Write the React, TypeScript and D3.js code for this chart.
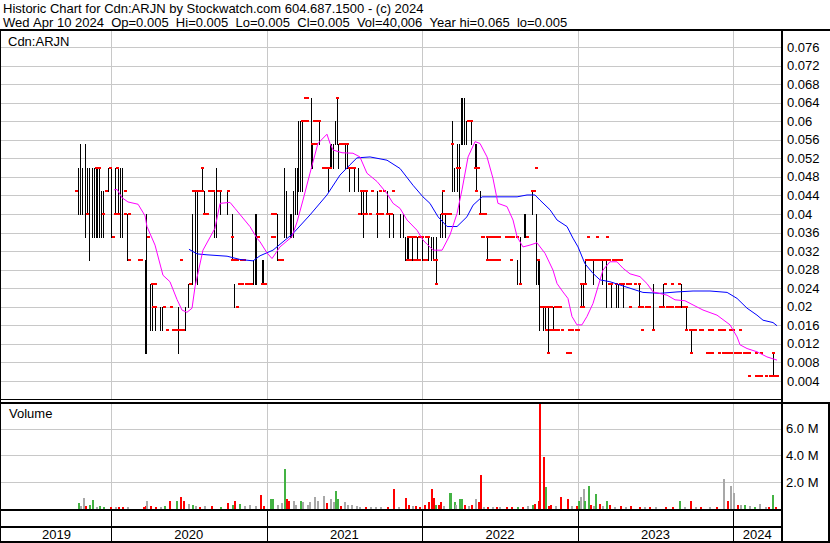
import React from "react";
import * as d3 from "d3";

const W = 830;
const H = 543;

const titleLine1 = "Historic Chart for Cdn:ARJN by Stockwatch.com 604.687.1500 - (c) 2024";
const titleLine2 = "Wed Apr 10 2024  Op=0.005  Hi=0.005  Lo=0.005  Cl=0.005  Vol=40,006  Year hi=0.065  lo=0.005";
const symbolLabel = "Cdn:ARJN";
const volumeLabel = "Volume";

const priceTicks = [0.004, 0.008, 0.012, 0.016, 0.02, 0.024, 0.028, 0.032, 0.036, 0.04, 0.044, 0.048, 0.052, 0.056, 0.06, 0.064, 0.068, 0.072, 0.076];
const volumeTicks = [2, 4, 6];
const years = [2019, 2020, 2021, 2022, 2023, 2024];
const timeDomain = [2019.2994, 2024.3064];

// [decimal year, high, low] for days with a range
const rangeBars: [number, number, number][] = [
  [2019.794, 0.05, 0.04], [2019.801, 0.055, 0.04], [2019.807, 0.05, 0.04], [2019.814, 0.05, 0.04],
  [2019.833, 0.055, 0.035], [2019.839, 0.05, 0.04], [2019.846, 0.05, 0.04], [2019.865, 0.05, 0.03],
  [2019.884, 0.05, 0.035], [2019.891, 0.05, 0.035], [2019.897, 0.05, 0.035], [2019.904, 0.05, 0.035],
  [2019.916, 0.05, 0.035], [2019.929, 0.05, 0.035], [2019.942, 0.045, 0.035], [2019.949, 0.045, 0.035],
  [2019.987, 0.05, 0.045], [2020.006, 0.05, 0.035], [2020.032, 0.05, 0.04], [2020.051, 0.05, 0.04],
  [2020.064, 0.05, 0.035], [2020.071, 0.05, 0.035], [2020.077, 0.05, 0.035], [2020.109, 0.04, 0.03],
  [2020.219, 0.03, 0.01], [2020.225, 0.03, 0.015], [2020.231, 0.04, 0.01], [2020.251, 0.025, 0.015],
  [2020.264, 0.025, 0.015], [2020.289, 0.02, 0.015], [2020.321, 0.02, 0.015], [2020.328, 0.02, 0.015],
  [2020.431, 0.02, 0.01], [2020.482, 0.02, 0.015], [2020.501, 0.025, 0.02], [2020.521, 0.03, 0.025],
  [2020.527, 0.04, 0.025], [2020.540, 0.045, 0.025], [2020.546, 0.045, 0.025], [2020.553, 0.045, 0.025],
  [2020.591, 0.05, 0.045], [2020.598, 0.045, 0.04], [2020.668, 0.045, 0.035], [2020.675, 0.045, 0.035],
  [2020.681, 0.05, 0.035], [2020.701, 0.045, 0.04], [2020.752, 0.045, 0.04], [2020.778, 0.04, 0.03],
  [2020.791, 0.025, 0.02], [2020.913, 0.03, 0.025], [2020.926, 0.04, 0.025], [2020.932, 0.04, 0.025],
  [2020.938, 0.04, 0.025], [2020.971, 0.03, 0.025], [2020.977, 0.03, 0.025], [2020.983, 0.03, 0.025],
  [2021.073, 0.04, 0.03], [2021.112, 0.05, 0.035], [2021.131, 0.045, 0.035], [2021.151, 0.04, 0.035],
  [2021.163, 0.04, 0.035], [2021.170, 0.045, 0.035], [2021.183, 0.05, 0.04], [2021.189, 0.05, 0.04],
  [2021.196, 0.05, 0.04], [2021.208, 0.06, 0.045], [2021.215, 0.06, 0.045], [2021.221, 0.06, 0.045],
  [2021.228, 0.06, 0.05], [2021.234, 0.06, 0.045], [2021.286, 0.065, 0.05], [2021.298, 0.055, 0.05],
  [2021.337, 0.06, 0.055], [2021.395, 0.05, 0.045], [2021.414, 0.055, 0.05], [2021.420, 0.055, 0.05],
  [2021.427, 0.055, 0.05], [2021.446, 0.06, 0.055], [2021.453, 0.065, 0.055], [2021.459, 0.06, 0.055],
  [2021.465, 0.055, 0.05], [2021.510, 0.055, 0.05], [2021.517, 0.055, 0.05], [2021.530, 0.05, 0.045],
  [2021.568, 0.05, 0.045], [2021.588, 0.05, 0.045], [2021.607, 0.045, 0.04], [2021.626, 0.045, 0.035],
  [2021.645, 0.045, 0.04], [2021.710, 0.045, 0.035], [2021.716, 0.045, 0.04], [2021.780, 0.045, 0.04],
  [2021.793, 0.04, 0.035], [2021.813, 0.04, 0.035], [2021.858, 0.04, 0.035], [2021.877, 0.04, 0.035],
  [2021.896, 0.035, 0.03], [2021.903, 0.035, 0.03], [2021.909, 0.035, 0.03], [2021.935, 0.035, 0.03],
  [2021.941, 0.035, 0.03], [2021.967, 0.035, 0.03], [2021.973, 0.035, 0.03], [2021.999, 0.035, 0.03],
  [2022.038, 0.035, 0.03], [2022.063, 0.035, 0.03], [2022.070, 0.035, 0.03], [2022.089, 0.035, 0.025],
  [2022.121, 0.04, 0.035], [2022.128, 0.045, 0.035], [2022.147, 0.04, 0.035], [2022.192, 0.06, 0.045],
  [2022.198, 0.05, 0.045], [2022.205, 0.05, 0.045], [2022.211, 0.05, 0.045], [2022.224, 0.055, 0.045],
  [2022.230, 0.055, 0.05], [2022.237, 0.055, 0.04], [2022.243, 0.055, 0.05], [2022.256, 0.065, 0.055],
  [2022.262, 0.065, 0.055], [2022.269, 0.065, 0.055], [2022.275, 0.065, 0.055], [2022.288, 0.06, 0.055],
  [2022.314, 0.06, 0.055], [2022.340, 0.055, 0.05], [2022.346, 0.055, 0.05], [2022.352, 0.055, 0.045],
  [2022.372, 0.045, 0.04], [2022.423, 0.035, 0.03], [2022.610, 0.03, 0.025], [2022.635, 0.035, 0.025],
  [2022.655, 0.04, 0.035], [2022.661, 0.04, 0.035], [2022.667, 0.04, 0.035], [2022.706, 0.045, 0.04],
  [2022.732, 0.04, 0.03], [2022.738, 0.03, 0.025], [2022.745, 0.03, 0.025], [2022.751, 0.03, 0.025],
  [2022.757, 0.025, 0.015], [2022.783, 0.02, 0.015], [2022.790, 0.02, 0.015], [2022.809, 0.02, 0.01],
  [2022.815, 0.02, 0.015], [2022.841, 0.02, 0.015], [2022.847, 0.02, 0.015], [2023.027, 0.025, 0.02],
  [2023.040, 0.025, 0.02], [2023.053, 0.03, 0.025], [2023.104, 0.03, 0.025], [2023.162, 0.03, 0.025],
  [2023.182, 0.03, 0.02], [2023.220, 0.025, 0.02], [2023.252, 0.025, 0.02], [2023.259, 0.025, 0.02],
  [2023.265, 0.025, 0.02], [2023.297, 0.025, 0.02], [2023.394, 0.025, 0.02], [2023.484, 0.025, 0.015],
  [2023.554, 0.025, 0.02], [2023.664, 0.025, 0.02], [2023.696, 0.02, 0.015], [2023.734, 0.015, 0.01],
  [2024.255, 0.01, 0.005],
];

// [decimal year, price] for days with no range (drawn as red ticks)
const flatDays: [number, number][] = [
  [2019.781, 0.045], [2019.852, 0.04], [2019.955, 0.04], [2019.910, 0.05], [2019.923, 0.05], [2019.994, 0.05],
  [2020.039, 0.05], [2019.968, 0.045], [2020.090, 0.045], [2020.019, 0.035], [2020.026, 0.04], [2020.045, 0.04],
  [2020.096, 0.04], [2020.116, 0.04], [2020.122, 0.03], [2020.186, 0.03], [2020.193, 0.03], [2020.238, 0.035],
  [2020.264, 0.025], [2020.289, 0.025], [2020.270, 0.02], [2020.283, 0.02], [2020.341, 0.02], [2020.386, 0.02],
  [2020.366, 0.015], [2020.399, 0.015], [2020.411, 0.015], [2020.424, 0.015], [2020.437, 0.015], [2020.450, 0.015],
  [2020.463, 0.015], [2020.456, 0.03], [2020.508, 0.025], [2020.533, 0.045], [2020.546, 0.045], [2020.559, 0.045],
  [2020.572, 0.045], [2020.585, 0.045], [2020.591, 0.05], [2020.604, 0.04], [2020.617, 0.04], [2020.623, 0.04],
  [2020.636, 0.045], [2020.649, 0.045], [2020.662, 0.045], [2020.688, 0.045], [2020.701, 0.045], [2020.758, 0.045],
  [2020.778, 0.035], [2020.784, 0.03], [2020.797, 0.03], [2020.816, 0.03], [2020.836, 0.03], [2020.855, 0.03],
  [2020.816, 0.02], [2020.829, 0.025], [2020.848, 0.025], [2020.868, 0.025], [2020.881, 0.025], [2020.900, 0.025],
  [2020.945, 0.035], [2020.971, 0.025], [2020.983, 0.025], [2020.990, 0.025], [2021.035, 0.035], [2021.054, 0.035],
  [2021.041, 0.04], [2021.060, 0.04], [2021.086, 0.03], [2021.099, 0.03], [2021.105, 0.03], [2021.234, 0.06],
  [2021.247, 0.06], [2021.260, 0.06], [2021.253, 0.065], [2021.266, 0.065], [2021.292, 0.055], [2021.305, 0.055],
  [2021.318, 0.055], [2021.311, 0.06], [2021.324, 0.06], [2021.337, 0.06], [2021.363, 0.05], [2021.376, 0.05],
  [2021.389, 0.05], [2021.401, 0.05], [2021.414, 0.05], [2021.453, 0.065], [2021.472, 0.055], [2021.485, 0.055],
  [2021.498, 0.055], [2021.523, 0.055], [2021.536, 0.05], [2021.549, 0.05], [2021.562, 0.05], [2021.613, 0.045],
  [2021.626, 0.045], [2021.639, 0.045], [2021.600, 0.04], [2021.620, 0.04], [2021.645, 0.04], [2021.665, 0.04],
  [2021.678, 0.045], [2021.729, 0.045], [2021.761, 0.045], [2021.813, 0.045], [2021.716, 0.04], [2021.735, 0.04],
  [2021.748, 0.04], [2021.774, 0.04], [2021.787, 0.04], [2021.806, 0.04], [2021.903, 0.03], [2021.916, 0.03],
  [2021.928, 0.03], [2021.948, 0.03], [2021.967, 0.03], [2021.980, 0.03], [2021.909, 0.035], [2021.922, 0.035],
  [2021.941, 0.035], [2021.960, 0.035], [2021.986, 0.035], [2022.005, 0.035], [2022.025, 0.035], [2022.038, 0.035],
  [2022.018, 0.03], [2022.031, 0.03], [2022.082, 0.03], [2022.095, 0.03], [2022.089, 0.025], [2022.128, 0.04],
  [2022.141, 0.04], [2022.153, 0.04], [2022.166, 0.04], [2022.179, 0.04], [2022.134, 0.045], [2022.230, 0.05],
  [2022.243, 0.05], [2022.192, 0.055], [2022.301, 0.06], [2022.314, 0.06], [2022.340, 0.05], [2022.352, 0.05],
  [2022.365, 0.05], [2022.352, 0.045], [2022.372, 0.04], [2022.385, 0.04], [2022.404, 0.04], [2022.385, 0.035],
  [2022.397, 0.035], [2022.423, 0.035], [2022.436, 0.035], [2022.449, 0.035], [2022.462, 0.035], [2022.475, 0.035],
  [2022.494, 0.035], [2022.545, 0.035], [2022.558, 0.035], [2022.571, 0.035], [2022.590, 0.035], [2022.610, 0.035],
  [2022.423, 0.03], [2022.436, 0.03], [2022.449, 0.03], [2022.462, 0.03], [2022.475, 0.03], [2022.494, 0.03],
  [2022.577, 0.03], [2022.629, 0.025], [2022.674, 0.035], [2022.706, 0.045], [2022.719, 0.045], [2022.732, 0.05],
  [2022.745, 0.03], [2022.770, 0.02], [2022.783, 0.02], [2022.796, 0.02], [2022.815, 0.02], [2022.834, 0.02],
  [2022.854, 0.02], [2022.873, 0.02], [2022.886, 0.02], [2022.802, 0.015], [2022.822, 0.015], [2022.841, 0.015],
  [2022.860, 0.015], [2022.879, 0.015], [2022.905, 0.015], [2022.950, 0.015], [2022.969, 0.015], [2022.989, 0.015],
  [2023.008, 0.015], [2022.809, 0.01], [2022.937, 0.01], [2022.956, 0.01], [2023.027, 0.02], [2023.040, 0.02],
  [2023.021, 0.025], [2023.046, 0.025], [2023.053, 0.025], [2023.059, 0.03], [2023.072, 0.03], [2023.085, 0.03],
  [2023.098, 0.03], [2023.111, 0.03], [2023.124, 0.03], [2023.143, 0.03], [2023.156, 0.03], [2023.175, 0.03],
  [2023.188, 0.03], [2023.207, 0.03], [2023.227, 0.03], [2023.246, 0.03], [2023.265, 0.03], [2023.284, 0.03],
  [2023.066, 0.035], [2023.124, 0.035], [2023.194, 0.035], [2023.207, 0.025], [2023.220, 0.025], [2023.246, 0.025],
  [2023.272, 0.025], [2023.291, 0.025], [2023.317, 0.025], [2023.342, 0.025], [2023.368, 0.025], [2023.400, 0.025],
  [2023.336, 0.02], [2023.400, 0.02], [2023.419, 0.02], [2023.445, 0.02], [2023.464, 0.02], [2023.529, 0.02],
  [2023.548, 0.02], [2023.574, 0.02], [2023.593, 0.02], [2023.612, 0.02], [2023.632, 0.02], [2023.651, 0.02],
  [2023.677, 0.02], [2023.702, 0.02], [2023.561, 0.025], [2023.612, 0.025], [2023.657, 0.025], [2023.419, 0.015],
  [2023.490, 0.015], [2023.702, 0.015], [2023.722, 0.015], [2023.741, 0.015], [2023.760, 0.015], [2023.786, 0.015],
  [2023.799, 0.015], [2023.850, 0.015], [2023.869, 0.015], [2023.908, 0.015], [2023.927, 0.015], [2023.946, 0.015],
  [2023.985, 0.015], [2024.004, 0.015], [2024.043, 0.015], [2023.734, 0.01], [2023.837, 0.01], [2023.850, 0.01],
  [2023.869, 0.01], [2023.908, 0.01], [2023.934, 0.01], [2023.953, 0.01], [2023.972, 0.01], [2023.991, 0.01],
  [2024.011, 0.01], [2024.030, 0.01], [2024.049, 0.01], [2024.069, 0.01], [2024.088, 0.01], [2024.107, 0.01],
  [2024.146, 0.01], [2024.184, 0.01], [2024.255, 0.01], [2024.107, 0.005], [2024.152, 0.005], [2024.165, 0.005],
  [2024.178, 0.005], [2024.210, 0.005], [2024.242, 0.005], [2024.255, 0.005], [2024.268, 0.005], [2024.281, 0.005],
];

// short moving average (magenta)
const maShort: [number, number][] = [
  [2020.019, 0.0452], [2020.039, 0.0453], [2020.071, 0.0435], [2020.109, 0.0426], [2020.174, 0.0421],
  [2020.219, 0.0396], [2020.231, 0.0373], [2020.283, 0.0333], [2020.334, 0.0268], [2020.379, 0.0254],
  [2020.424, 0.0216], [2020.456, 0.0193], [2020.488, 0.0188], [2020.521, 0.0197], [2020.540, 0.0243],
  [2020.591, 0.0322], [2020.668, 0.0369], [2020.701, 0.0423], [2020.765, 0.0425], [2020.797, 0.0412],
  [2020.893, 0.0373], [2020.938, 0.0348], [2020.958, 0.034], [2021.003, 0.0316], [2021.035, 0.0304],
  [2021.086, 0.0329], [2021.163, 0.0351], [2021.196, 0.0383], [2021.234, 0.043], [2021.279, 0.0488],
  [2021.330, 0.0552], [2021.388, 0.0572], [2021.408, 0.0552], [2021.427, 0.0538], [2021.485, 0.0532],
  [2021.555, 0.0531], [2021.600, 0.0523], [2021.645, 0.0488], [2021.710, 0.047], [2021.774, 0.0444],
  [2021.813, 0.0423], [2021.858, 0.0412], [2021.903, 0.0387], [2021.967, 0.0365], [2022.005, 0.0344],
  [2022.031, 0.0335], [2022.070, 0.0322], [2022.128, 0.0322], [2022.179, 0.0355], [2022.224, 0.0401],
  [2022.256, 0.0452], [2022.295, 0.0523], [2022.340, 0.0556], [2022.372, 0.0552], [2022.417, 0.0523],
  [2022.455, 0.0477], [2022.487, 0.0423], [2022.545, 0.0416], [2022.584, 0.0387], [2022.610, 0.0351],
  [2022.648, 0.0329], [2022.693, 0.0333], [2022.738, 0.0338], [2022.790, 0.0315], [2022.841, 0.0279],
  [2022.867, 0.025], [2022.905, 0.0232], [2022.937, 0.0218], [2022.963, 0.0179], [2022.995, 0.0161],
  [2023.027, 0.0161], [2023.059, 0.0179], [2023.098, 0.0207], [2023.130, 0.0243], [2023.162, 0.0279],
  [2023.207, 0.0297], [2023.252, 0.0297], [2023.291, 0.0283], [2023.336, 0.0271], [2023.400, 0.0265],
  [2023.445, 0.025], [2023.484, 0.0232], [2023.574, 0.0225], [2023.625, 0.0215], [2023.689, 0.0213],
  [2023.741, 0.0204], [2023.805, 0.0193], [2023.895, 0.0182], [2023.979, 0.0161], [2024.024, 0.0135],
  [2024.043, 0.0118], [2024.088, 0.011], [2024.152, 0.0103], [2024.216, 0.0092], [2024.281, 0.0085],
];

// long moving average (blue)
const maLong: [number, number][] = [
  [2020.501, 0.0324], [2020.553, 0.0314], [2020.617, 0.0312], [2020.746, 0.0309], [2020.829, 0.0302],
  [2020.913, 0.0299], [2020.958, 0.031], [2021.041, 0.0322], [2021.170, 0.0358], [2021.279, 0.0398],
  [2021.388, 0.0441], [2021.472, 0.0484], [2021.536, 0.0506], [2021.581, 0.0521], [2021.665, 0.0523],
  [2021.774, 0.0516], [2021.858, 0.0498], [2021.941, 0.0462], [2022.005, 0.0437], [2022.050, 0.0423],
  [2022.102, 0.0394], [2022.160, 0.0373], [2022.224, 0.0373], [2022.288, 0.0394], [2022.327, 0.0419],
  [2022.385, 0.0437], [2022.481, 0.0437], [2022.610, 0.0437], [2022.674, 0.0441], [2022.725, 0.0441],
  [2022.757, 0.043], [2022.822, 0.0409], [2022.867, 0.0387], [2022.931, 0.0373], [2022.969, 0.0348],
  [2023.002, 0.0329], [2023.046, 0.0293], [2023.098, 0.0272], [2023.143, 0.0258], [2023.207, 0.0254],
  [2023.272, 0.0247], [2023.336, 0.024], [2023.419, 0.0231], [2023.529, 0.0229], [2023.638, 0.0232],
  [2023.741, 0.0234], [2023.850, 0.0234], [2023.960, 0.0231], [2024.024, 0.0218], [2024.088, 0.0197],
  [2024.152, 0.0182], [2024.191, 0.0171], [2024.255, 0.0166], [2024.281, 0.0159],
];

// [decimal year, volume in millions, colour key: u=up, d=down, f=flat]
const volumes: [number, number, string][] = [
  [2019.788, 0.4, "u"], [2019.801, 0.2, "f"], [2019.826, 0.78, "f"], [2019.839, 0.2, "d"], [2019.859, 0.25, "u"],
  [2019.884, 0.66, "u"], [2019.904, 0.15, "f"], [2019.929, 0.2, "u"], [2019.955, 0.15, "u"], [2019.994, 0.1, "d"],
  [2020.026, 0.1, "f"], [2020.045, 0.1, "d"], [2020.071, 0.1, "d"], [2020.103, 0.15, "f"], [2020.206, 0.15, "d"],
  [2020.219, 0.2, "d"], [2020.231, 0.6, "f"], [2020.251, 0.2, "d"], [2020.283, 0.15, "d"], [2020.315, 0.15, "f"],
  [2020.347, 0.2, "u"], [2020.379, 0.6, "d"], [2020.418, 0.6, "u"], [2020.444, 0.9, "d"], [2020.463, 0.6, "d"],
  [2020.495, 0.35, "f"], [2020.521, 0.3, "u"], [2020.546, 0.2, "f"], [2020.572, 0.15, "d"], [2020.604, 0.2, "f"],
  [2020.649, 0.2, "d"], [2020.701, 0.15, "u"], [2020.752, 0.4, "d"], [2020.778, 0.25, "u"], [2020.797, 0.6, "d"],
  [2020.829, 0.35, "u"], [2020.861, 0.2, "f"], [2020.893, 0.25, "f"], [2020.926, 0.2, "f"], [2020.958, 1.0, "d"],
  [2020.977, 0.2, "d"], [2021.022, 0.7, "u"], [2021.041, 0.7, "u"], [2021.073, 0.3, "f"], [2021.099, 0.4, "f"],
  [2021.112, 3.0, "u"], [2021.125, 0.75, "d"], [2021.138, 0.6, "d"], [2021.170, 0.6, "f"], [2021.189, 0.3, "f"],
  [2021.215, 0.6, "u"], [2021.234, 0.5, "f"], [2021.260, 0.3, "f"], [2021.279, 0.5, "f"], [2021.311, 0.9, "f"],
  [2021.330, 0.55, "f"], [2021.363, 0.95, "f"], [2021.382, 0.4, "d"], [2021.408, 0.7, "f"], [2021.427, 0.5, "f"],
  [2021.440, 1.3, "u"], [2021.459, 0.7, "u"], [2021.472, 0.2, "d"], [2021.504, 0.5, "f"], [2021.523, 0.3, "f"],
  [2021.549, 0.3, "f"], [2021.575, 0.2, "f"], [2021.600, 0.15, "f"], [2021.633, 0.15, "d"], [2021.665, 0.1, "f"],
  [2021.697, 0.15, "f"], [2021.729, 0.1, "f"], [2021.780, 0.1, "d"], [2021.813, 1.5, "d"], [2021.845, 0.1, "f"],
  [2021.890, 0.8, "d"], [2021.909, 0.3, "d"], [2021.935, 0.2, "f"], [2021.954, 0.2, "d"], [2021.986, 0.15, "d"],
  [2022.018, 0.3, "d"], [2022.038, 0.5, "d"], [2022.057, 1.5, "d"], [2022.070, 0.8, "d"], [2022.083, 0.3, "u"],
  [2022.102, 0.3, "d"], [2022.121, 0.5, "d"], [2022.140, 0.2, "f"], [2022.173, 1.2, "u"], [2022.185, 1.2, "u"],
  [2022.205, 0.5, "u"], [2022.217, 0.3, "f"], [2022.237, 0.7, "u"], [2022.256, 0.75, "u"], [2022.275, 0.3, "d"],
  [2022.295, 0.2, "f"], [2022.320, 0.3, "d"], [2022.340, 0.75, "f"], [2022.359, 0.5, "d"], [2022.372, 2.55, "d"],
  [2022.397, 0.1, "f"], [2022.423, 0.15, "d"], [2022.449, 0.1, "f"], [2022.475, 0.1, "d"], [2022.500, 0.1, "f"],
  [2022.539, 0.1, "d"], [2022.577, 0.1, "d"], [2022.610, 0.1, "u"], [2022.642, 0.15, "d"], [2022.680, 0.2, "f"],
  [2022.706, 0.3, "u"], [2022.725, 0.35, "d"], [2022.745, 0.6, "d"], [2022.757, 7.9, "d"], [2022.783, 3.9, "d"],
  [2022.790, 1.6, "u"], [2022.809, 0.2, "d"], [2022.828, 0.3, "d"], [2022.860, 0.2, "f"], [2022.892, 0.9, "d"],
  [2022.931, 0.7, "d"], [2022.963, 0.2, "f"], [2022.989, 0.2, "d"], [2023.002, 0.6, "u"], [2023.015, 0.85, "f"],
  [2023.034, 1.5, "f"], [2023.046, 0.55, "u"], [2023.066, 1.7, "u"], [2023.079, 0.25, "d"], [2023.104, 0.2, "f"],
  [2023.117, 1.1, "u"], [2023.137, 0.35, "d"], [2023.162, 0.2, "f"], [2023.182, 0.6, "u"], [2023.207, 0.3, "d"],
  [2023.239, 0.15, "f"], [2023.272, 0.2, "d"], [2023.304, 0.15, "f"], [2023.336, 0.2, "d"], [2023.400, 0.15, "d"],
  [2023.432, 0.1, "f"], [2023.464, 0.1, "d"], [2023.497, 0.1, "f"], [2023.561, 0.1, "d"], [2023.606, 0.15, "d"],
  [2023.657, 0.55, "u"], [2023.689, 0.1, "f"], [2023.722, 0.6, "d"], [2023.754, 0.1, "f"], [2023.786, 0.1, "d"],
  [2023.850, 0.1, "f"], [2023.889, 0.1, "d"], [2023.934, 2.25, "f"], [2023.960, 0.6, "d"], [2023.979, 0.85, "f"],
  [2023.985, 1.67, "f"], [2024.004, 1.2, "f"], [2024.024, 0.3, "d"], [2024.043, 0.25, "f"], [2024.075, 0.3, "u"],
  [2024.107, 0.2, "f"], [2024.139, 0.1, "u"], [2024.171, 0.35, "f"], [2024.204, 0.1, "f"], [2024.223, 0.1, "d"],
  [2024.249, 1.0, "u"], [2024.268, 0.1, "d"],
];

const volColors: Record<string, string> = { u: "#44b344", d: "#ff0000", f: "#a8a8a8" };

const FONT = "Arial, 'Liberation Sans', sans-serif";
const GRID = "#c8c8c8";
const FS = 13;

export default function App() {
  const left = 1;
  const right = 781;
  const priceTop = 31;
  const priceBottom = 400;
  const volTop = 403;
  const volBottom = 509;

  const x = d3.scaleLinear().domain(timeDomain).range([left + 1, right]);
  const y = d3.scaleLinear().domain([0.004, 0.076]).range([381, 47]);
  const yv = d3.scaleLinear().domain([0, 6]).range([508.7, 428.7]);

  const maLine = d3
    .line<[number, number]>()
    .x((d) => x(d[0]))
    .y((d) => y(d[1]))
    .curve(d3.curveLinear);

  const yearBounds = years.slice(1).map((yr) => x(yr));
  const segEdges = [x(timeDomain[0]), ...yearBounds, x(timeDomain[1])];

  const fmtPrice = (v: number) => String(+v.toFixed(3));
  const fmtVol = (v: number) => d3.format(".1f")(v) + " M";
  const keepSpaces = (s: string) => s.replace(/ /g, "\u00a0");

  return (
    <svg
      width={W}
      height={H}
      viewBox={`0 0 ${W} ${H}`}
      style={{ position: "absolute", left: 0, top: 0, background: "#fff" }}
      fontFamily={FONT}
    >
      <rect x={0} y={0} width={W} height={H} fill="#fff" />
      {/* titles */}
      <text x={3} y={13} fontSize={FS} fill="#000">{titleLine1}</text>
      <text x={3} y={27} fontSize={FS} fill="#000">{keepSpaces(titleLine2)}</text>

      {/* grids */}
      <g shapeRendering="crispEdges">
        {priceTicks.map((t) => (
          <line key={"pg" + t} x1={left} x2={right} y1={Math.round(y(t)) + 0.5} y2={Math.round(y(t)) + 0.5} stroke={GRID} />
        ))}
        {yearBounds.map((bx, i) => (
          <line key={"vg" + i} x1={Math.round(bx) + 0.5} x2={Math.round(bx) + 0.5} y1={priceTop} y2={priceBottom} stroke={GRID} />
        ))}
        {volumeTicks.map((t) => (
          <line key={"vgt" + t} x1={left} x2={right} y1={Math.round(yv(t)) + 0.5} y2={Math.round(yv(t)) + 0.5} stroke={GRID} />
        ))}
        {yearBounds.map((bx, i) => (
          <line key={"vgv" + i} x1={Math.round(bx) + 0.5} x2={Math.round(bx) + 0.5} y1={volTop} y2={volBottom} stroke={GRID} />
        ))}
      </g>

      <text x={8} y={46} fontSize={FS} fill="#000">{symbolLabel}</text>
      <text x={9} y={418} fontSize={FS} fill="#000">{volumeLabel}</text>

      {/* price bars */}
      <g shapeRendering="crispEdges">
        {rangeBars.map((b, i) => (
          <rect key={"b" + i} x={Math.floor(x(b[0]))} width={1} y={Math.round(y(b[1]))} height={Math.round(y(b[2])) - Math.round(y(b[1])) + 1} fill="#000" />
        ))}
        {flatDays.map((d, i) => (
          <rect key={"f" + i} x={Math.floor(x(d[0])) - 1} width={3} y={Math.round(y(d[1])) - 1} height={2} fill="#ff0000" />
        ))}
      </g>

      {/* moving averages */}
      <path d={maLine(maLong) || ""} fill="none" stroke="#0000ff" strokeWidth={1} />
      <path d={maLine(maShort) || ""} fill="none" stroke="#ff00ff" strokeWidth={1} />

      {/* volume bars */}
      <g shapeRendering="crispEdges">
        {volumes.map((v, i) => (
          <rect key={"v" + i} x={Math.floor(x(v[0]))} width={2} y={yv(v[1])} height={yv(0) - yv(v[1])} fill={volColors[v[2]]} />
        ))}
      </g>

      {/* frame */}
      <g shapeRendering="crispEdges" stroke="#000" fill="none">
        <line x1={0} x2={W} y1={30} y2={30} strokeWidth={2} />
        <line x1={0.5} x2={0.5} y1={30} y2={H} strokeWidth={1} />
        <line x1={right + 0.5} x2={right + 0.5} y1={30} y2={H} strokeWidth={2} />
        <line x1={0} x2={right} y1={priceBottom - 0.5} y2={priceBottom - 0.5} strokeWidth={1} />
        <line x1={0} x2={W} y1={402.5} y2={402.5} strokeWidth={2} />
        <line x1={0} x2={right} y1={volBottom + 0.5} y2={volBottom + 0.5} strokeWidth={2} />
        <line x1={0} x2={right} y1={527} y2={527} strokeWidth={2} />
        <line x1={0} x2={W} y1={H - 1.5} y2={H - 1.5} strokeWidth={2} />
        <line x1={W - 1.5} x2={W - 1.5} y1={402} y2={H} strokeWidth={2} />
        {yearBounds.map((bx, i) => (
          <line key={"yb" + i} x1={Math.round(bx) + 0.5} x2={Math.round(bx) + 0.5} y1={510} y2={542} strokeWidth={1} />
        ))}
      </g>

      {/* axis labels */}
      {priceTicks.map((t) => (
        <text key={"pl" + t} x={787} y={y(t) + 4.5} fontSize={FS} fill="#000">{fmtPrice(t)}</text>
      ))}
      {volumeTicks.map((t) => (
        <text key={"vl" + t} x={786} y={yv(t) + 4.5} fontSize={FS} fill="#000">{fmtVol(t)}</text>
      ))}
      {years.map((yr, i) => (
        <text key={"yl" + yr} x={(segEdges[i] + segEdges[i + 1]) / 2} y={539} fontSize={FS} textAnchor="middle" fill="#000">{yr}</text>
      ))}
    </svg>
  );
}
